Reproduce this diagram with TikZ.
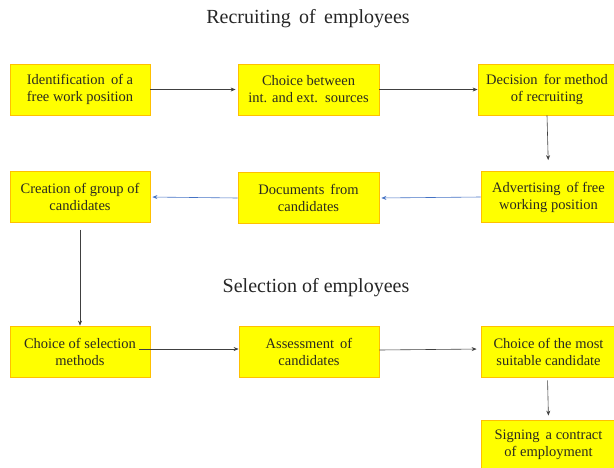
\documentclass[tikz,border=0pt]{standalone}
\usepackage{fontspec}
\setmainfont{Liberation Serif}
\usetikzlibrary{arrows.meta,calc}
\definecolor{boxfill}{HTML}{FFFF00}
\definecolor{boxline}{HTML}{FFC000}
\definecolor{txt}{HTML}{2B2B20}
\definecolor{arrblue}{HTML}{4472C4}
\tikzset{
  stepbox/.style={rectangle, draw=boxline, line width=0.8pt, fill=boxfill,
    minimum height=51pt, inner sep=0pt, align=center, text=txt,
    font=\fontsize{14.5}{17}\selectfont},
  conn/.style={draw=black!75, line width=0.6pt, -{Stealth[length=5pt,width=4pt]}},
  connb/.style={draw=arrblue, line width=0.6pt, -{Stealth[length=5pt,width=4pt]}},
  title/.style={text=black!85, font=\fontsize{20}{24}\selectfont}
}
\begin{document}
\begin{tikzpicture}[x=1pt,y=-1pt]
\useasboundingbox (0,0) rectangle (614,467);
\node[title] (t1) at (308,19) {Recruiting\, of\, employees};
\node[title] (t2) at (316,288) {Selection of employees};

\node[stepbox, minimum width=140pt] (b1) at (80,89.5) {Identification\, of a\\free work position};
\node[stepbox, minimum width=141pt] (b2) at (308.5,89.5) {Choice between\\int. and ext.\, sources};
\node[stepbox, minimum width=138pt] (b3) at (547,89.5) {Decision\, for method\\of recruiting};

\node[stepbox, minimum width=140pt] (b4) at (80,197) {Creation of group of\\candidates};
\node[stepbox, minimum width=141pt] (b5) at (308.5,198) {Documents\, from\\candidates};
\node[stepbox, minimum width=135pt] (b6) at (548.5,197) {Advertising\, of free\\working position};

\node[stepbox, minimum width=140pt] (b7) at (80,351.5) {Choice of selection\\methods};
\node[stepbox, minimum width=140pt] (b8) at (309,351.5) {Assessment\, of\\candidates};
\node[stepbox, minimum width=135pt] (b9) at (548.5,351.5) {Choice of the most\\suitable candidate};
\node[stepbox, minimum width=135pt, minimum height=50pt] (b10) at (548.5,445) {Signing\, a contract\\of employment};

\draw[conn, shorten >=2pt] (b1.east) -- (b2.west);
\draw[conn] (b2.east) -- (b3.west);
\draw[conn, shorten >=11pt] (b3.south) -- (b6.north);
\draw[connb, shorten >=2pt] (b6.west) -- (b5.west -| b5.east);
\draw[connb, shorten >=2pt] (b5.west) -- (b4.east);
\draw[conn, shorten <=7pt] (b4.south) -- (b7.north);
\draw[conn] ([xshift=-11pt,yshift=2.5pt]b7.east) -- ([yshift=2.5pt]b8.west);
\draw[conn, shorten >=4pt] ([yshift=1.5pt]b8.east) -- ([yshift=2.5pt]b9.west);
\draw[conn, shorten <=3pt, shorten >=4pt] ([xshift=-1pt]b9.south) -- (b10.north);
\end{tikzpicture}
\end{document}
